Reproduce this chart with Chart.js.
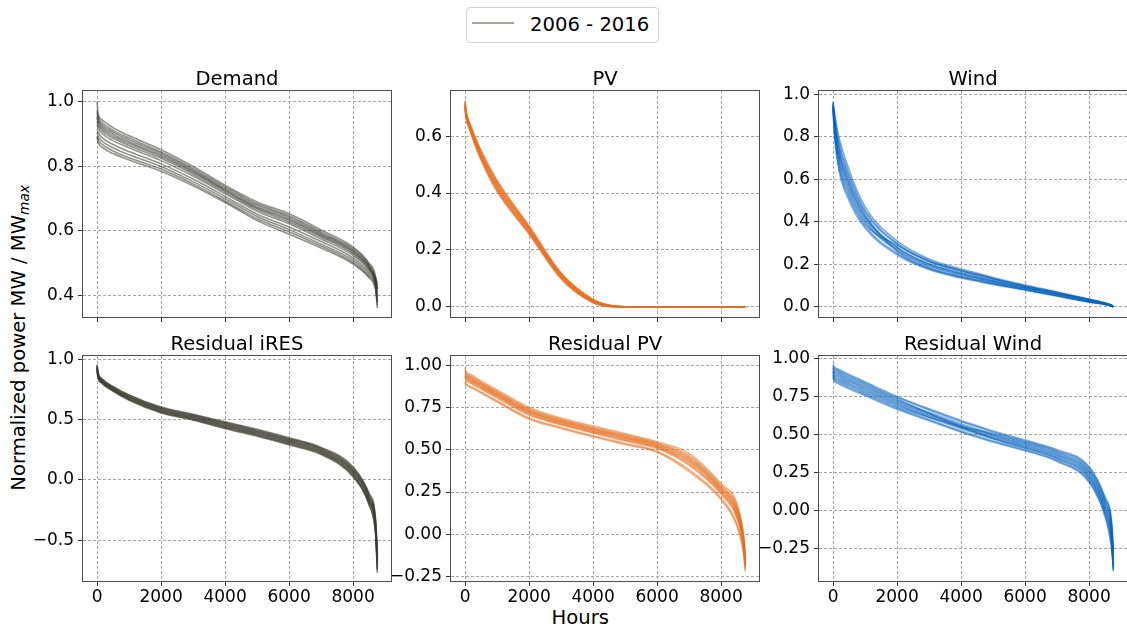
<!DOCTYPE html>
<html>
<head>
<meta charset="utf-8">
<script src="https://cdn.jsdelivr.net/npm/chart.js@4.4.1/dist/chart.umd.min.js"></script>
<style>
  html, body { margin: 0; padding: 0; background: #fff; }
  body { width: 1127px; height: 633px; position: relative; overflow: hidden; font-family: 'DejaVu Sans', sans-serif; color: #000; }
  canvas { position: absolute; }
  .txt { position: absolute; font-size: 19.6px; line-height: 19.6px; white-space: nowrap; }
  #legend-box { position: absolute; left: 465.5px; top: 7px; width: 193px; height: 36px; box-sizing: border-box; border: 1px solid #d2d2d2; border-radius: 4px; background: #fff; }
  #legend-line { position: absolute; left: 472px; top: 22px; width: 42px; height: 2px; background: #a5a5a0; }
  #ylabel { left: -180.8px; top: 327.7px; width: 400px; text-align: center; transform: rotate(-90deg); }
  #ylabel sub { font-size: 0.7em; font-style: italic; vertical-align: -0.25em; line-height: 0; }
</style>
</head>
<body>
<div id="legend-box"></div>
<div id="legend-line"></div>
<div class="txt" style="left:530px; top:15px;">2006 - 2016</div>
<div class="txt" id="ylabel">Normalized power MW / MW<sub>max</sub></div>
<div class="txt" style="left:551.5px; top:608.4px;">Hours</div>

<script>
// hours of the year at which each duration curve is sampled
const HOURS = [0, 30, 150, 500, 1000, 2000, 3000, 4000, 4500, 5000, 6000, 7000, 8000, 8500, 8700, 8759]
const YEARS = [2006, 2007, 2008, 2009, 2010, 2011, 2012, 2013, 2014, 2015, 2016]

const demand = [
    [1.00, 0.965, 0.945, 0.92, 0.895, 0.852, 0.80, 0.742, 0.715, 0.69, 0.653, 0.603, 0.55, 0.50, 0.46, 0.41],
    [0.975, 0.956, 0.937, 0.912, 0.888, 0.845, 0.794, 0.737, 0.71, 0.684, 0.647, 0.597, 0.545, 0.496, 0.456, 0.42],
    [0.965, 0.949, 0.93, 0.906, 0.882, 0.84, 0.789, 0.732, 0.705, 0.68, 0.642, 0.593, 0.54, 0.492, 0.453, 0.43],
    [0.955, 0.942, 0.924, 0.90, 0.876, 0.835, 0.785, 0.728, 0.70, 0.675, 0.637, 0.589, 0.537, 0.489, 0.45, 0.44],
    [0.95, 0.936, 0.918, 0.894, 0.871, 0.83, 0.781, 0.725, 0.697, 0.671, 0.633, 0.585, 0.533, 0.486, 0.447, 0.40],
    [0.94, 0.929, 0.911, 0.888, 0.865, 0.825, 0.776, 0.72, 0.693, 0.667, 0.628, 0.581, 0.529, 0.482, 0.444, 0.42],
    [0.93, 0.92, 0.903, 0.88, 0.858, 0.818, 0.77, 0.715, 0.688, 0.661, 0.622, 0.575, 0.524, 0.478, 0.44, 0.39],
    [0.915, 0.907, 0.89, 0.868, 0.846, 0.808, 0.761, 0.707, 0.679, 0.652, 0.612, 0.567, 0.516, 0.471, 0.434, 0.38],
    [0.905, 0.895, 0.879, 0.858, 0.836, 0.80, 0.753, 0.70, 0.672, 0.645, 0.604, 0.559, 0.509, 0.465, 0.429, 0.37],
    [0.895, 0.884, 0.869, 0.848, 0.827, 0.792, 0.746, 0.693, 0.665, 0.638, 0.597, 0.553, 0.502, 0.459, 0.424, 0.36],
    [0.89, 0.875, 0.86, 0.84, 0.82, 0.785, 0.74, 0.688, 0.66, 0.632, 0.59, 0.547, 0.497, 0.455, 0.42, 0.38]
]

const pv = [
    [0.725, 0.69, 0.645, 0.55, 0.445, 0.285, 0.12, 0.026, 0.006, 0, 0, 0, 0, 0, 0, 0],
    [0.72, 0.688, 0.643, 0.546, 0.441, 0.282, 0.118, 0.025, 0.005, 0, 0, 0, 0, 0, 0, 0],
    [0.715, 0.685, 0.64, 0.543, 0.437, 0.279, 0.116, 0.024, 0.005, 0, 0, 0, 0, 0, 0, 0],
    [0.718, 0.683, 0.638, 0.54, 0.433, 0.276, 0.113, 0.022, 0.004, 0, 0, 0, 0, 0, 0, 0],
    [0.71, 0.68, 0.635, 0.536, 0.429, 0.273, 0.111, 0.021, 0.004, 0, 0, 0, 0, 0, 0, 0],
    [0.712, 0.678, 0.633, 0.533, 0.425, 0.27, 0.109, 0.02, 0.003, 0, 0, 0, 0, 0, 0, 0],
    [0.705, 0.675, 0.63, 0.529, 0.421, 0.267, 0.107, 0.019, 0.003, 0, 0, 0, 0, 0, 0, 0],
    [0.708, 0.673, 0.628, 0.526, 0.417, 0.264, 0.105, 0.018, 0.002, 0, 0, 0, 0, 0, 0, 0],
    [0.70, 0.67, 0.625, 0.522, 0.413, 0.261, 0.102, 0.016, 0.002, 0, 0, 0, 0, 0, 0, 0],
    [0.703, 0.668, 0.623, 0.519, 0.409, 0.258, 0.10, 0.015, 0.001, 0, 0, 0, 0, 0, 0, 0],
    [0.70, 0.665, 0.62, 0.515, 0.405, 0.255, 0.098, 0.014, 0.001, 0, 0, 0, 0, 0, 0, 0]
]

const wind = [
    [0.95, 0.93, 0.82, 0.645, 0.47, 0.31, 0.225, 0.178, 0.158, 0.138, 0.102, 0.07, 0.036, 0.018, 0.008, 0],
    [0.965, 0.916, 0.797, 0.623, 0.455, 0.30, 0.218, 0.172, 0.153, 0.133, 0.098, 0.067, 0.034, 0.017, 0.007, 0],
    [0.94, 0.907, 0.782, 0.609, 0.445, 0.294, 0.212, 0.167, 0.148, 0.13, 0.096, 0.065, 0.033, 0.016, 0.007, 0],
    [0.955, 0.899, 0.767, 0.594, 0.435, 0.262, 0.183, 0.142, 0.126, 0.11, 0.081, 0.053, 0.024, 0.012, 0.005, 0],
    [0.93, 0.89, 0.752, 0.58, 0.425, 0.281, 0.202, 0.16, 0.141, 0.123, 0.091, 0.061, 0.03, 0.015, 0.006, 0],
    [0.96, 0.885, 0.745, 0.573, 0.42, 0.278, 0.20, 0.157, 0.139, 0.122, 0.09, 0.06, 0.029, 0.014, 0.006, 0],
    [0.945, 0.876, 0.73, 0.558, 0.41, 0.271, 0.195, 0.153, 0.136, 0.118, 0.088, 0.058, 0.028, 0.013, 0.005, 0],
    [0.935, 0.867, 0.715, 0.544, 0.40, 0.265, 0.19, 0.149, 0.132, 0.115, 0.085, 0.056, 0.026, 0.013, 0.005, 0],
    [0.95, 0.858, 0.70, 0.529, 0.39, 0.29, 0.214, 0.17, 0.151, 0.132, 0.097, 0.066, 0.034, 0.017, 0.007, 0],
    [0.925, 0.849, 0.685, 0.515, 0.38, 0.252, 0.18, 0.14, 0.124, 0.108, 0.08, 0.052, 0.023, 0.011, 0.004, 0],
    [0.94, 0.84, 0.67, 0.50, 0.37, 0.245, 0.175, 0.135, 0.12, 0.105, 0.078, 0.05, 0.022, 0.01, 0.004, 0]
]

const residualIres = [
    [0.955, 0.89, 0.84, 0.775, 0.705, 0.605, 0.545, 0.482, 0.452, 0.42, 0.35, 0.27, 0.11, -0.11, -0.31, -0.62],
    [0.95, 0.886, 0.836, 0.771, 0.701, 0.60, 0.54, 0.476, 0.446, 0.414, 0.344, 0.264, 0.10, -0.12, -0.33, -0.66],
    [0.945, 0.881, 0.832, 0.767, 0.696, 0.595, 0.535, 0.471, 0.44, 0.408, 0.338, 0.258, 0.091, -0.13, -0.34, -0.60],
    [0.94, 0.877, 0.828, 0.763, 0.692, 0.59, 0.53, 0.465, 0.434, 0.402, 0.332, 0.252, 0.083, -0.14, -0.36, -0.70],
    [0.935, 0.872, 0.824, 0.759, 0.687, 0.585, 0.525, 0.459, 0.428, 0.397, 0.326, 0.246, 0.074, -0.15, -0.37, -0.65],
    [0.93, 0.868, 0.82, 0.755, 0.683, 0.58, 0.52, 0.454, 0.423, 0.391, 0.32, 0.24, 0.068, -0.16, -0.38, -0.72],
    [0.925, 0.863, 0.816, 0.751, 0.678, 0.575, 0.515, 0.448, 0.417, 0.385, 0.314, 0.234, 0.059, -0.17, -0.39, -0.68],
    [0.92, 0.859, 0.812, 0.747, 0.674, 0.57, 0.51, 0.442, 0.411, 0.379, 0.308, 0.228, 0.05, -0.18, -0.40, -0.74],
    [0.915, 0.854, 0.808, 0.743, 0.669, 0.565, 0.505, 0.436, 0.405, 0.373, 0.302, 0.222, 0.042, -0.19, -0.41, -0.77],
    [0.905, 0.85, 0.804, 0.739, 0.665, 0.56, 0.50, 0.431, 0.399, 0.368, 0.296, 0.216, 0.033, -0.20, -0.43, -0.63],
    [0.90, 0.845, 0.80, 0.735, 0.66, 0.555, 0.495, 0.425, 0.393, 0.362, 0.29, 0.21, 0.025, -0.21, -0.44, -0.75]
]

const residualPv = [
    [0.99, 0.965, 0.95, 0.91, 0.856, 0.753, 0.69, 0.642, 0.62, 0.597, 0.549, 0.48, 0.30, 0.18, 0.0, -0.12],
    [0.975, 0.955, 0.941, 0.901, 0.847, 0.745, 0.683, 0.634, 0.612, 0.589, 0.542, 0.467, 0.289, 0.164, -0.013, -0.15],
    [0.96, 0.949, 0.935, 0.896, 0.842, 0.739, 0.678, 0.629, 0.607, 0.584, 0.537, 0.458, 0.281, 0.153, -0.022, -0.17],
    [0.95, 0.943, 0.928, 0.89, 0.836, 0.733, 0.673, 0.624, 0.602, 0.579, 0.532, 0.45, 0.273, 0.142, -0.031, -0.14],
    [0.945, 0.937, 0.923, 0.885, 0.831, 0.729, 0.668, 0.62, 0.597, 0.574, 0.527, 0.442, 0.267, 0.133, -0.039, -0.18],
    [0.94, 0.931, 0.918, 0.88, 0.826, 0.724, 0.664, 0.615, 0.593, 0.57, 0.523, 0.435, 0.26, 0.123, -0.046, -0.20],
    [0.935, 0.925, 0.912, 0.874, 0.821, 0.718, 0.659, 0.61, 0.588, 0.565, 0.518, 0.426, 0.253, 0.113, -0.055, -0.16],
    [0.93, 0.919, 0.905, 0.868, 0.815, 0.712, 0.654, 0.605, 0.582, 0.559, 0.513, 0.417, 0.245, 0.102, -0.064, -0.19],
    [0.92, 0.912, 0.899, 0.862, 0.809, 0.707, 0.649, 0.60, 0.577, 0.554, 0.508, 0.409, 0.237, 0.091, -0.073, -0.16],
    [0.905, 0.893, 0.88, 0.845, 0.792, 0.69, 0.634, 0.584, 0.562, 0.539, 0.493, 0.383, 0.215, 0.058, -0.10, -0.22],
    [0.90, 0.885, 0.873, 0.838, 0.785, 0.683, 0.628, 0.578, 0.555, 0.532, 0.487, 0.372, 0.205, 0.045, -0.11, -0.21]
]

const residualWind = [
    [0.96, 0.945, 0.93, 0.893, 0.845, 0.75, 0.668, 0.592, 0.557, 0.522, 0.463, 0.40, 0.29, 0.09, -0.06, -0.25],
    [0.95, 0.936, 0.92, 0.884, 0.836, 0.742, 0.66, 0.584, 0.55, 0.515, 0.456, 0.392, 0.28, 0.077, -0.078, -0.30],
    [0.94, 0.926, 0.911, 0.874, 0.827, 0.733, 0.638, 0.55, 0.51, 0.472, 0.41, 0.34, 0.207, -0.014, -0.204, -0.35],
    [0.935, 0.917, 0.902, 0.865, 0.818, 0.725, 0.645, 0.569, 0.535, 0.50, 0.442, 0.377, 0.259, 0.051, -0.114, -0.33],
    [0.925, 0.907, 0.892, 0.856, 0.809, 0.716, 0.637, 0.561, 0.527, 0.493, 0.435, 0.369, 0.248, 0.038, -0.132, -0.36],
    [0.915, 0.898, 0.883, 0.847, 0.80, 0.708, 0.629, 0.554, 0.52, 0.486, 0.428, 0.362, 0.238, 0.025, -0.15, -0.31],
    [0.91, 0.888, 0.873, 0.837, 0.791, 0.699, 0.621, 0.546, 0.512, 0.479, 0.421, 0.354, 0.227, 0.012, -0.168, -0.38],
    [0.90, 0.879, 0.864, 0.828, 0.782, 0.691, 0.613, 0.538, 0.505, 0.472, 0.414, 0.346, 0.217, -0.001, -0.186, -0.40],
    [0.89, 0.869, 0.854, 0.819, 0.773, 0.682, 0.612, 0.55, 0.528, 0.505, 0.449, 0.385, 0.269, 0.064, -0.096, -0.28],
    [0.88, 0.86, 0.845, 0.809, 0.764, 0.674, 0.598, 0.523, 0.49, 0.457, 0.40, 0.331, 0.196, -0.027, -0.222, -0.39],
    [0.87, 0.85, 0.835, 0.80, 0.755, 0.665, 0.59, 0.515, 0.482, 0.45, 0.393, 0.323, 0.185, -0.04, -0.24, -0.37]
]

const PANEL_TITLES = ['Demand', 'PV', 'Wind', 'Residual iRES', 'Residual PV', 'Residual Wind']
const PANEL_SERIES = [demand, pv, wind, residualIres, residualPv, residualWind]
const X_TICKS = [0, 2000, 4000, 6000, 8000]
const Y_TICKS = [
    [0.4, 0.6, 0.8, 1.0],
    [0.0, 0.2, 0.4, 0.6],
    [0.0, 0.2, 0.4, 0.6, 0.8, 1.0],
    [-0.5, 0.0, 0.5, 1.0],
    [-0.25, 0.0, 0.25, 0.5, 0.75, 1.0],
    [-0.25, 0.0, 0.25, 0.5, 0.75, 1.0]
]
const Y_DECIMALS = [1, 1, 1, 1, 2, 2]
const Y_LIMITS = [[0.333, 1.034], [-0.036, 0.759], [-0.048, 1.015], [-0.837, 1.027], [-0.278, 1.058], [-0.462, 1.015]]
const X_LIMITS = [-440, 9185]

const LINE_COLORS = ['rgba(58,58,48,0.55)', 'rgba(230,110,30,0.55)', 'rgba(8,98,190,0.55)']

// plot area of each panel in page pixels: left, top, width, height
const BOXES = [
    [83, 91, 308, 226], [451, 91, 308, 226], [819, 91, 308, 226],
    [83, 356, 308, 225], [451, 356, 308, 225], [819, 356, 308, 225]
]
const AXIS_W = 80, TOP_PAD = 40, BOTTOM_H = 40

Chart.defaults.font.family = "'DejaVu Sans'"
Chart.defaults.font.size = 17
Chart.defaults.color = '#000'

// title over the plot area and the frame round it
const panelFrame = {
    id: 'panelFrame',
    afterDraw(chart, args, opts) {
        const ctx = chart.ctx
        const a = chart.chartArea
        ctx.save()
        ctx.strokeStyle = '#4d4d4d'
        ctx.lineWidth = 1
        ctx.strokeRect(a.left - 0.5, a.top - 0.5, a.right - a.left + 1, a.bottom - a.top + 1)
        ctx.font = "19.6px 'DejaVu Sans'"
        ctx.fillStyle = '#000'
        ctx.textAlign = 'center'
        ctx.textBaseline = 'alphabetic'
        ctx.fillText(opts.text, (a.left + a.right) / 2, a.top - 6.5)
        ctx.restore()
    }
}

const gridStyle = {
    color: '#a6a6a6',
    lineWidth: 1,
    drawTicks: true,
    tickLength: 5,
    tickColor: '#333',
    tickWidth: 1
}

PANEL_TITLES.forEach((title, p) => {
    const [left, top, w, h] = BOXES[p]
    const canvas = document.createElement('canvas')
    canvas.width = w + AXIS_W + 2
    canvas.height = h + TOP_PAD + BOTTOM_H
    canvas.style.left = (left - AXIS_W) + 'px'
    canvas.style.top = (top - TOP_PAD) + 'px'
    document.body.appendChild(canvas)

    const color = LINE_COLORS[p % 3]
    const datasets = PANEL_SERIES[p].map((values, i) => ({
        label: String(YEARS[i]),
        data: HOURS.map((hour, k) => ({ x: hour, y: values[k] })),
        borderColor: color,
        borderWidth: 1.6,
        pointRadius: 0,
        fill: false,
        cubicInterpolationMode: 'monotone'
    }))

    const bottomRow = p >= 3
    const yTicks = Y_TICKS[p]
    const decimals = Y_DECIMALS[p]

    new Chart(canvas, {
        type: 'line',
        data: { datasets: datasets },
        options: {
            responsive: false,
            animation: false,
            devicePixelRatio: 1,
            layout: { padding: { left: 0, top: TOP_PAD, right: 2, bottom: 0 } },
            plugins: {
                legend: { display: false },
                tooltip: { enabled: false },
                panelFrame: { text: title }
            },
            scales: {
                x: {
                    type: 'linear',
                    bounds: 'data',
                    min: X_LIMITS[0],
                    max: X_LIMITS[1],
                    afterBuildTicks: scale => { scale.ticks = X_TICKS.map(v => ({ value: v })) },
                    afterFit: scale => { scale.height = BOTTOM_H },
                    ticks: {
                        display: bottomRow,
                        autoSkip: false,
                        maxRotation: 0,
                        padding: 1,
                        callback: v => String(v)
                    },
                    grid: gridStyle,
                    border: { display: false, dash: [3, 2] }
                },
                y: {
                    type: 'linear',
                    bounds: 'data',
                    min: Y_LIMITS[p][0],
                    max: Y_LIMITS[p][1],
                    afterBuildTicks: scale => { scale.ticks = yTicks.map(v => ({ value: v })) },
                    afterFit: scale => { scale.width = AXIS_W },
                    ticks: {
                        autoSkip: false,
                        padding: 4,
                        callback: v => v.toFixed(decimals).replace('-', '\u2212')
                    },
                    grid: gridStyle,
                    border: { display: false, dash: [3, 2] }
                }
            }
        },
        plugins: [panelFrame]
    })
})
</script>
</body>
</html>
